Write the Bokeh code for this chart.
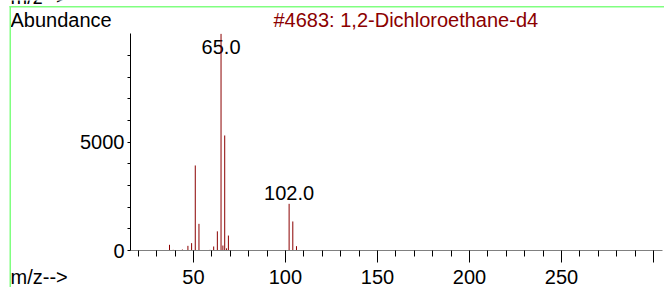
from bokeh.plotting import figure
from bokeh.models import Range1d, FixedTicker, Label, BoxAnnotation, ColumnDataSource
from bokeh.embed import file_html
from bokeh.resources import INLINE
from bokeh.core.properties import value

# ---- data ----
mz = [37, 39, 44, 47, 49, 51, 53, 59, 61, 63, 65, 66, 67, 68, 69, 84, 102, 104, 106]
abundance = [263, 30, 45, 215, 340, 3925, 1230, 30, 185, 885, 10000, 230, 5310, 100, 690, 20, 2155, 1340, 200]
label_mz = [65, 102]
label_abund = [10000, 2155]
label_text = ["65.0", "102.0"]
x_major = [50, 100, 150, 200, 250, 300]
x_minor = [20, 30, 40, 60, 70, 80, 90, 110, 120, 130, 140, 160, 170, 180, 190,
           210, 220, 230, 240, 260, 270, 280, 290]
y_major = [0, 5000]
y_minor = [1000, 2000, 3000, 4000, 6000, 7000, 8000, 9000]
title_text = "#4683: 1,2-Dichloroethane-d4"
y_label = "Abundance"
x_label = "m/z-->"

# axis extents (data)
X0, X1 = 15.8, 304.9
Y0, Y1 = 0, 10018
W, H = 664, 287
AX_L, AX_R, AX_T, AX_B = 130, 662, 33, 250   # axes box in pixels
FONT = "Liberation Sans"
DARKRED = "#8b0000"
TEXT_SHIFT = 7   # px, compensates Bokeh's baseline placement


def dx(px):
    return X0 + (px - AX_L) * (X1 - X0) / (AX_R - AX_L)


def dy(py):
    return Y0 + (AX_B - py) * (Y1 - Y0) / (AX_B - AX_T)


p = figure(width=W, height=H, min_border=0,
           x_range=Range1d(dx(0), dx(W)), y_range=Range1d(dy(H), dy(0)),
           output_backend="svg", toolbar_location=None, title_location=None)
p.grid.visible = False
p.outline_line_color = None
p.background_fill_color = "white"
p.border_fill_color = "white"

# axes (fixed inside the full-canvas frame)
xa = p.xaxis[0]
xa.fixed_location = Y0
xa.bounds = (X0, X1)
xa.ticker = FixedTicker(ticks=x_major, minor_ticks=x_minor)
xa.axis_line_color = "#808080"
xa.major_tick_in = 0
xa.major_tick_out = 12
xa.minor_tick_in = 0
xa.minor_tick_out = 6
xa.major_tick_line_color = "black"
xa.minor_tick_line_color = "black"
xa.major_label_overrides = {300: ""}
xa.major_label_text_font = FONT
xa.major_label_text_font_size = "20px"
xa.major_label_text_color = "black"
xa.major_label_standoff = 7

ya = p.yaxis[0]
ya.fixed_location = X0
ya.bounds = (Y0, Y1)
ya.ticker = FixedTicker(ticks=y_major, minor_ticks=y_minor)
ya.axis_line_color = "black"
ya.major_tick_in = 0
ya.major_tick_out = 3
ya.minor_tick_in = 0
ya.minor_tick_out = 3
ya.major_tick_line_color = "black"
ya.minor_tick_line_color = "black"
ya.major_label_text_font = FONT
ya.major_label_text_font_size = "20px"
ya.major_label_text_color = "black"
ya.major_label_standoff = 3
ya.major_label_orientation = "horizontal"

# peak labels
px_per_y = (AX_B - AX_T) / (Y1 - Y0)
label_y = [min(a + (4 + TEXT_SHIFT) / px_per_y, Y1 - (20.3 - TEXT_SHIFT) / px_per_y)
           for a in label_abund]
lsrc = ColumnDataSource(dict(x=label_mz, y=label_y, t=label_text))
p.text(x="x", y="y", text="t", source=lsrc, text_align="center",
       text_baseline="alphabetic", text_font=value(FONT),
       text_font_size="20px", text_color="black")

# spectrum sticks
src = ColumnDataSource(dict(x=mz, y=abundance, z=[0] * len(mz)))
p.segment(x0="x", y0="z", x1="x", y1="y", source=src,
          line_color=DARKRED, line_width=1)

# free texts
def add_text(px, py, text, color="black"):
    p.add_layout(Label(x=dx(px), y=dy(py - TEXT_SHIFT), text=text, text_font=FONT,
                       text_font_size="20px", text_color=color,
                       text_baseline="alphabetic", text_align="left"))

add_text(10, 3.3, x_label)          # tail of the previous panel's caption
add_text(10, 26.7, y_label)
add_text(273, 26.7, title_text, DARKRED)
add_text(10, 283, x_label)

# green frame lines
GREEN = "#80ff80"
p.add_layout(BoxAnnotation(left=dx(9), right=dx(10.5), bottom=dy(H + 5), top=dy(5.5),
                           fill_color=GREEN, fill_alpha=1, line_color=None))
p.add_layout(BoxAnnotation(left=dx(9), right=dx(W + 5), bottom=dy(7), top=dy(5.5),
                           fill_color=GREEN, fill_alpha=1, line_color=None))

open("out.html", "w").write(file_html(p, INLINE))
